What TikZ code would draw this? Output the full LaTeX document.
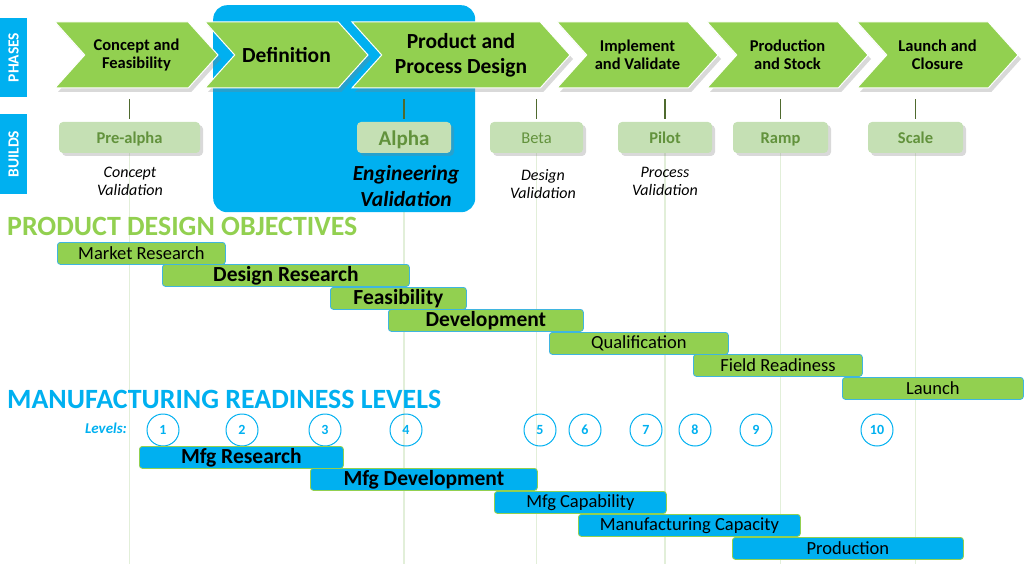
\documentclass[tikz,border=0pt]{standalone}
\usepackage{fontspec}
\setmainfont{Carlito}
\usetikzlibrary{shapes.symbols,shadows,backgrounds,positioning}

\definecolor{phasegreen}{HTML}{92D050}
\definecolor{mfgblue}{HTML}{00B0F0}
\definecolor{buildfill}{HTML}{C5E0B4}
\definecolor{buildtext}{HTML}{62923C}
\definecolor{gridgreen}{HTML}{E2EFD9}
\definecolor{linkgreen}{HTML}{4F6A2E}
\definecolor{barline}{HTML}{3FB5E0}
\newcommand{\fsize}[2]{\fontsize{#1pt}{#2pt}\selectfont}

\begin{document}
\begin{tikzpicture}[
    x=1pt, y=-1pt,
    phase/.style={signal, signal from=west, signal to=east, signal pointer angle=96,
        fill=phasegreen, draw=white, line width=1pt, minimum height=66pt, inner sep=0pt,
        align=center, font=\bfseries\fsize{16.5}{18},
        drop shadow={shadow xshift=3pt, shadow yshift=-4pt, opacity=.3}},
    bigphase/.style={phase, font=\bfseries\fsize{21.5}{25}},
    side/.style={fill=mfgblue, rotate=90, minimum width=79pt, minimum height=27pt,
        inner sep=0pt, text=white, font=\bfseries\fsize{15.5}{16}},
    build/.style={fill=buildfill, rounded corners=4pt, minimum height=31pt, inner sep=0pt,
        text height=15pt, text depth=3pt, text=buildtext, font=\bfseries\fsize{16.5}{18},
        drop shadow={shadow xshift=3pt, shadow yshift=-3pt, opacity=.3}},
    note/.style={align=center, font=\itshape\fsize{16}{18}},
    link/.style={draw=linkgreen, line width=1.2pt},
    gridline/.style={draw=gridgreen, line width=1.5pt},
    heading/.style={anchor=west, inner sep=0pt, font=\bfseries\fsize{27.9}{30}},
    bar/.style={anchor=north west, minimum height=22pt, inner sep=0pt, rounded corners=3pt,
        line width=.8pt, font=\fsize{18.5}{20}},
    pdbar/.style={bar, fill=phasegreen, draw=barline},
    mfgbar/.style={bar, fill=mfgblue, draw=phasegreen},
    boldbar/.style={font=\bfseries\fsize{21.5}{22}},
    level/.style={circle, draw=mfgblue, line width=1pt, minimum size=32pt, inner sep=0pt,
        text=mfgblue, font=\bfseries\fsize{14}{14}}
]
\useasboundingbox (0,0) rectangle (1024,564);
\coordinate (floor) at (0,564);

% engineering validation highlight
\node[fill=mfgblue, rounded corners=14pt, minimum width=262pt, minimum height=207pt,
    inner sep=0pt, anchor=north west] (focus) at (213,5) {};

% row labels
\node[side] (phases) at (13.5,57.5) {PHASES};
\node[side] (builds) at (13.5,154) {BUILDS};

% phases
\node[phase, minimum width=163pt] (concept) at (136.5,55) {Concept and\\Feasibility};
\node[bigphase, minimum width=163pt] (definition) at (286.5,55) {Definition};
\node[bigphase, minimum width=218pt] (design) at (461,55) {Product and\\Process Design};
\node[phase, minimum width=161pt] (implement) at (637.5,55) {Implement\\and Validate};
\node[phase, minimum width=161pt] (stock) at (787.5,55) {Production\\and Stock};
\node[phase, minimum width=161pt] (launch) at (937.5,55) {Launch and\\Closure};

% builds
\node[build, minimum width=141pt] (prealpha) at (129.5,137.5) {Pre-alpha};
\node[build, minimum width=94pt, font=\bfseries\fsize{21}{22}, text height=19pt, text depth=3.5pt] (alpha) at (404,137.5) {Alpha};
\node[build, minimum width=93pt, font=\fsize{16.5}{18}] (beta) at (536.5,137.5) {Beta};
\node[build, minimum width=94pt] (pilot) at (665,137.5) {Pilot};
\node[build, minimum width=95pt] (ramp) at (780.5,137.5) {Ramp};
\node[build, minimum width=95pt] (scale) at (915.5,137.5) {Scale};

\foreach \b/\p in {prealpha/concept, alpha/design, beta/design, pilot/implement, ramp/stock, scale/launch}
    \draw[link, shorten <=3pt, shorten >=11pt] (\b.north) -- (\b.north |- \p.south);

\begin{scope}[on background layer]
    \foreach \b in {prealpha,alpha,beta,pilot,ramp,scale}
        \draw[gridline] (\b.south) -- (\b.south |- floor);
\end{scope}

% validation notes
\node[note] (conceptval) at (130,181) {Concept\\Validation};
\node[note, font=\bfseries\itshape\fsize{21.5}{26}] (engval) at (406,186) {Engineering\\Validation};
\node[note] (designval) at (543,184) {Design\\Validation};
\node[note] (processval) at (665,181) {Process\\Validation};

% product design objectives
\node[heading, text=phasegreen] (pdo) at (7,226) {PRODUCT DESIGN OBJECTIVES};
\node[pdbar, minimum width=168pt] (market) at (57,242) {Market Research};
\node[pdbar, boldbar, minimum width=247pt] (research) at (162,264) {Design Research};
\node[pdbar, boldbar, minimum width=136pt] (feasible) at (330,287) {Feasibility};
\node[pdbar, boldbar, minimum width=195pt] (develop) at (388,309) {Development};
\node[pdbar, minimum width=179pt] (qualify) at (549,332) {Qualification};
\node[pdbar, minimum width=169pt] (field) at (693,354) {Field Readiness};
\node[pdbar, minimum width=181pt] (golive) at (842,377) {Launch};

% manufacturing readiness levels
\node[heading, text=mfgblue] (mrl) at (7,399) {MANUFACTURING READINESS LEVELS};
\node[font=\bfseries\itshape\fsize{15}{16}, text=mfgblue] (levels) at (106,428) {Levels:};
\foreach \n/\x in {1/163,2/242,3/325,4/406,5/540,6/585,7/646,8/695,9/756,10/877}
    \node[level] (lvl\n) at (\x,430) {\n};

\node[mfgbar, boldbar, minimum width=204pt] (mfgres) at (139,446) {Mfg Research};
\node[mfgbar, boldbar, minimum width=227pt] (mfgdev) at (310,468) {Mfg Development};
\node[mfgbar, minimum width=172pt] (mfgcap) at (494,491) {Mfg Capability};
\node[mfgbar, minimum width=222pt] (capacity) at (578,514) {Manufacturing Capacity};
\node[mfgbar, minimum width=231pt] (production) at (732,537) {Production};
\end{tikzpicture}
\end{document}
